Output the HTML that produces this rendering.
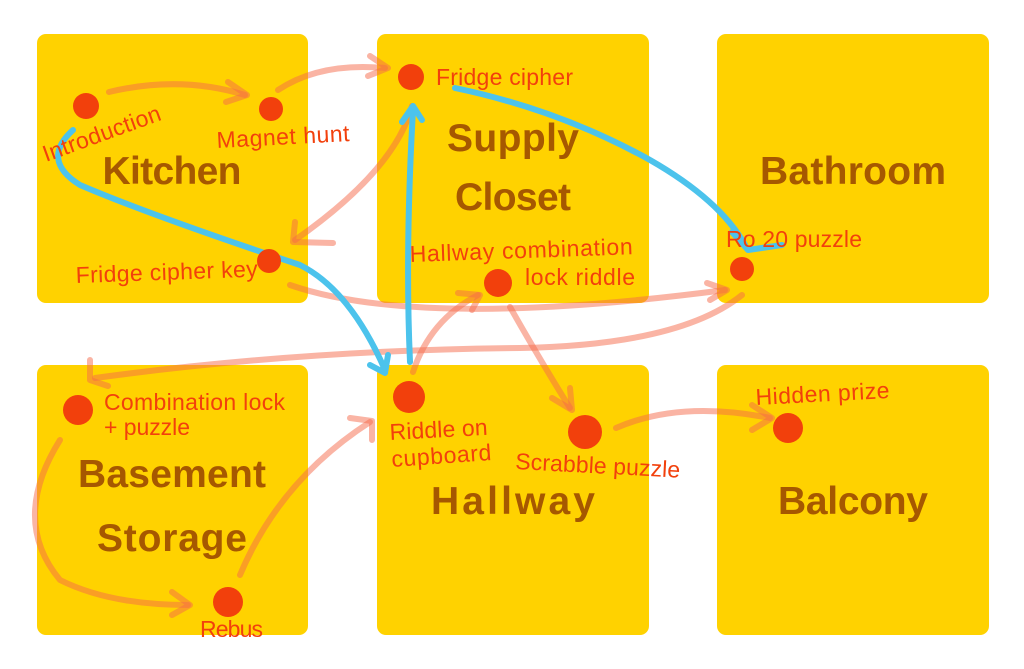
<!DOCTYPE html>
<html><head><meta charset="utf-8"><style>
html,body{margin:0;padding:0;background:#fff;}
svg{display:block;}
.room{fill:#ffd200;}
.t{font-family:"Liberation Sans",sans-serif;font-weight:bold;font-size:39px;fill:#a65800;text-anchor:middle;}
.l{font-family:"Liberation Sans",sans-serif;font-size:23px;fill:#f2400c;}
.d{fill:#f2400c;}
.a{fill:none;stroke:#f56a4a;stroke-opacity:.5;stroke-width:6;stroke-linecap:round;stroke-linejoin:round;}
.b{fill:none;stroke:#4cc3ec;stroke-width:6;stroke-linecap:round;stroke-linejoin:round;}
</style></head><body>
<svg width="1024" height="669" viewBox="0 0 1024 669">
<rect class="room" x="37" y="34" width="271" height="269" rx="9"/>
<rect class="room" x="377" y="34" width="272" height="269" rx="9"/>
<rect class="room" x="717" y="34" width="272" height="269" rx="9"/>
<rect class="room" x="37" y="365" width="271" height="270" rx="9"/>
<rect class="room" x="377" y="365" width="272" height="270" rx="9"/>
<rect class="room" x="717" y="365" width="272" height="270" rx="9"/>

<text class="t" x="172" y="184" textLength="139">Kitchen</text>
<text class="t" x="513" y="151" textLength="132">Supply</text>
<text class="t" x="513" y="210" textLength="116">Closet</text>
<text class="t" x="853" y="184" textLength="186">Bathroom</text>
<text class="t" x="172" y="487" textLength="188">Basement</text>
<text class="t" x="172" y="551" textLength="150">Storage</text>
<text class="t" x="513" y="514" textLength="164">Hallway</text>
<text class="t" x="853" y="514" textLength="150">Balcony</text>

<!-- arrows -->
<path class="a" d="M109 92 Q180 75 245 95"/><path class="a" d="M228 82 L247 95 L226 102"/>
<path class="a" d="M278 90 Q320 62 385 68"/><path class="a" d="M370 56 L388 68 L368 76"/>
<path class="a" d="M412 106 Q395 170 295 240"/><path class="a" d="M295 222 L293 242 L333 243"/>
<path class="a" d="M290 285 Q420 330 725 290"/><path class="a" d="M707 283 L727 290 L710 300"/>
<path class="a" d="M742 295 Q680 345 520 348 Q300 350 95 378"/><path class="a" d="M90 360 L90 380 L108 386"/>
<path class="a" d="M60 440 Q10 520 60 580 Q110 605 188 605"/><path class="a" d="M172 592 L190 605 L172 615"/>
<path class="a" d="M240 575 Q280 480 370 422"/><path class="a" d="M350 418 L372 421 L372 440"/>
<path class="a" d="M413 372 Q430 320 478 295"/><path class="a" d="M458 293 L480 295 L472 310"/>
<path class="a" d="M510 307 Q540 360 570 408"/><path class="a" d="M552 398 L572 410 L570 388"/>
<path class="a" d="M616 428 Q680 400 770 418"/><path class="a" d="M752 405 L772 418 L752 430"/>

<!-- blue -->
<path class="b" d="M455 88 Q560 110 650 160 Q720 200 745 245"/><path class="b" d="M732 232 L748 250 L782 245"/>
<path class="b" d="M410 362 Q405 250 413 110"/><path class="b" d="M402 122 L413 106 L422 120"/>
<path class="b" d="M73 130 Q40 160 80 185 Q150 215 300 265 Q350 290 385 370"/><path class="b" d="M370 365 L385 373 L388 355"/>

<!-- dots -->
<circle class="d" cx="86" cy="106" r="13"/>
<circle class="d" cx="271" cy="109" r="12"/>
<circle class="d" cx="269" cy="261" r="12"/>
<circle class="d" cx="411" cy="77" r="13"/>
<circle class="d" cx="498" cy="283" r="14"/>
<circle class="d" cx="742" cy="269" r="12"/>
<circle class="d" cx="78" cy="410" r="15"/>
<circle class="d" cx="228" cy="602" r="15"/>
<circle class="d" cx="409" cy="397" r="16"/>
<circle class="d" cx="585" cy="432" r="17"/>
<circle class="d" cx="788" cy="428" r="15"/>

<!-- labels -->
<text class="l" x="46" y="162" transform="rotate(-20 46 162)" textLength="124">Introduction</text>
<text class="l" x="217" y="148" transform="rotate(-3 217 148)" textLength="133">Magnet hunt</text>
<text class="l" x="76" y="283" transform="rotate(-2 76 283)" textLength="182">Fridge cipher key</text>
<text class="l" x="436" y="85" textLength="137">Fridge cipher</text>
<text class="l" x="410" y="262" transform="rotate(-2 410 262)" textLength="223">Hallway combination</text>
<text class="l" x="525" y="285" textLength="110">lock riddle</text>
<text class="l" x="726" y="247" textLength="136">Ro 20 puzzle</text>
<text class="l" x="104" y="410" textLength="181">Combination lock</text>
<text class="l" x="104" y="435" textLength="86">+ puzzle</text>
<text class="l" x="200" y="637" textLength="63">Rebus</text>
<text class="l" x="390" y="440" transform="rotate(-3 390 440)" textLength="98">Riddle on</text>
<text class="l" x="392" y="467" transform="rotate(-4 392 467)" textLength="100">cupboard</text>
<text class="l" x="515" y="469" transform="rotate(3 515 469)" textLength="165">Scrabble puzzle</text>
<text class="l" x="756" y="405" transform="rotate(-3 756 405)" textLength="134">Hidden prize</text>
</svg>
</body></html>
